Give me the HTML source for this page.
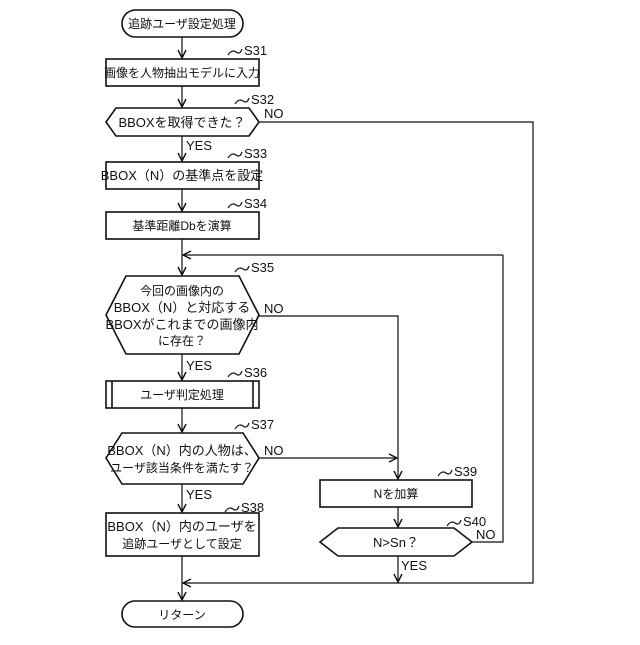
<!DOCTYPE html>
<html><head><meta charset="utf-8"><style>
body{margin:0;background:#fff}
svg text{font-family:"Liberation Sans","Noto Sans CJK JP",sans-serif;fill:#111}
</style></head><body>
<svg width="640" height="640" viewBox="0 0 640 640" xmlns="http://www.w3.org/2000/svg">
<defs><marker id="a" markerWidth="10" markerHeight="10" refX="9" refY="5" orient="auto" markerUnits="userSpaceOnUse"><path d="M1,1 L9,5 L1,9" fill="none" stroke="#111" stroke-width="1.4"/></marker></defs>
<g fill="none" stroke="#111" stroke-width="1.6">
<rect x="122" y="10" width="121" height="27" rx="13.5"/>
<rect x="106" y="59" width="153" height="27"/>
<polygon points="106,122 116,108 249,108 259,122 249,136 116,136"/>
<rect x="106" y="162" width="153" height="27"/>
<rect x="106" y="212" width="153" height="27"/>
<polygon points="106,315 126,276 239,276 259,315 239,354 126,354"/>
<rect x="106" y="381" width="153" height="27"/>
<line x1="112" y1="381" x2="112" y2="408"/><line x1="253" y1="381" x2="253" y2="408"/>
<polygon points="106,458 122,433 243,433 259,458 243,484 122,484"/>
<rect x="106" y="513" width="153" height="43"/>
<rect x="320" y="480" width="152" height="27"/>
<polygon points="320,542 338,528 454,528 472,542 454,556 338,556"/>
<rect x="122" y="601" width="121" height="26" rx="13"/>
</g>
<g fill="none" stroke="#111" stroke-width="1.2">
<line x1="182" y1="37" x2="182" y2="58" marker-end="url(#a)"/>
<line x1="182" y1="86" x2="182" y2="107" marker-end="url(#a)"/>
<line x1="182" y1="136" x2="182" y2="161" marker-end="url(#a)"/>
<line x1="182" y1="189" x2="182" y2="211" marker-end="url(#a)"/>
<line x1="182" y1="239" x2="182" y2="275" marker-end="url(#a)"/>
<line x1="503" y1="255" x2="183" y2="255" marker-end="url(#a)"/>
<line x1="182" y1="354" x2="182" y2="380" marker-end="url(#a)"/>
<line x1="182" y1="408" x2="182" y2="432" marker-end="url(#a)"/>
<line x1="182" y1="484" x2="182" y2="512" marker-end="url(#a)"/>
<line x1="182" y1="556" x2="182" y2="600" marker-end="url(#a)"/>
<polyline points="259,122 533,122 533,583 183,583" marker-end="url(#a)"/>
<polyline points="259,316 398,316 398,479" marker-end="url(#a)"/>
<line x1="259" y1="458" x2="397" y2="458" marker-end="url(#a)"/>
<line x1="398" y1="507" x2="398" y2="527" marker-end="url(#a)"/>
<line x1="398" y1="556" x2="398" y2="582" marker-end="url(#a)"/>
<polyline points="472,542 503,542 503,255"/>
<path d="M228,55 q4,-6 8,-3 t6,-3"/>
<path d="M235,104 q4,-6 8,-3 t6,-3"/>
<path d="M228,158 q4,-6 8,-3 t6,-3"/>
<path d="M228,208 q4,-6 8,-3 t6,-3"/>
<path d="M235,272 q4,-6 8,-3 t6,-3"/>
<path d="M228,377 q4,-6 8,-3 t6,-3"/>
<path d="M235,429 q4,-6 8,-3 t6,-3"/>
<path d="M225,512 q4,-6 8,-3 t6,-3"/>
<path d="M438,476 q4,-6 8,-3 t6,-3"/>
<path d="M447,526 q4,-6 8,-3 t6,-3"/>
</g>
<g font-size="12" text-anchor="middle">
<text x="182" y="28">追跡ユーザ設定処理</text>
<text x="182" y="77">画像を人物抽出モデルに入力</text>
<text x="182" y="127" font-size="13">BBOXを取得できた？</text>
<text x="182" y="180" font-size="13">BBOX（N）の基準点を設定</text>
<text x="182" y="230">基準距離Dbを演算</text>
<text x="182" y="295">今回の画像内の</text>
<text x="182" y="312" font-size="13">BBOX（N）と対応する</text>
<text x="182" y="329" font-size="13">BBOXがこれまでの画像内</text>
<text x="182" y="345">に存在？</text>
<text x="182" y="399">ユーザ判定処理</text>
<text x="182" y="455" font-size="13">BBOX（N）内の人物は、</text>
<text x="182" y="472">ユーザ該当条件を満たす？</text>
<text x="182" y="531" font-size="13">BBOX（N）内のユーザを</text>
<text x="182" y="548">追跡ユーザとして設定</text>
<text x="396" y="498">Nを加算</text>
<text x="396" y="547" font-size="13">N&gt;Sn？</text>
<text x="182" y="619">リターン</text>
</g>
<g font-size="13">
<text x="244" y="55">S31</text>
<text x="251" y="104">S32</text>
<text x="264" y="118">NO</text>
<text x="186" y="150">YES</text>
<text x="244" y="158">S33</text>
<text x="244" y="208">S34</text>
<text x="251" y="272">S35</text>
<text x="264" y="313">NO</text>
<text x="186" y="370">YES</text>
<text x="244" y="377">S36</text>
<text x="251" y="429">S37</text>
<text x="264" y="455">NO</text>
<text x="186" y="499">YES</text>
<text x="241" y="512">S38</text>
<text x="454" y="476">S39</text>
<text x="463" y="526">S40</text>
<text x="476" y="539">NO</text>
<text x="401" y="570">YES</text>
</g>
</svg>
</body></html>
